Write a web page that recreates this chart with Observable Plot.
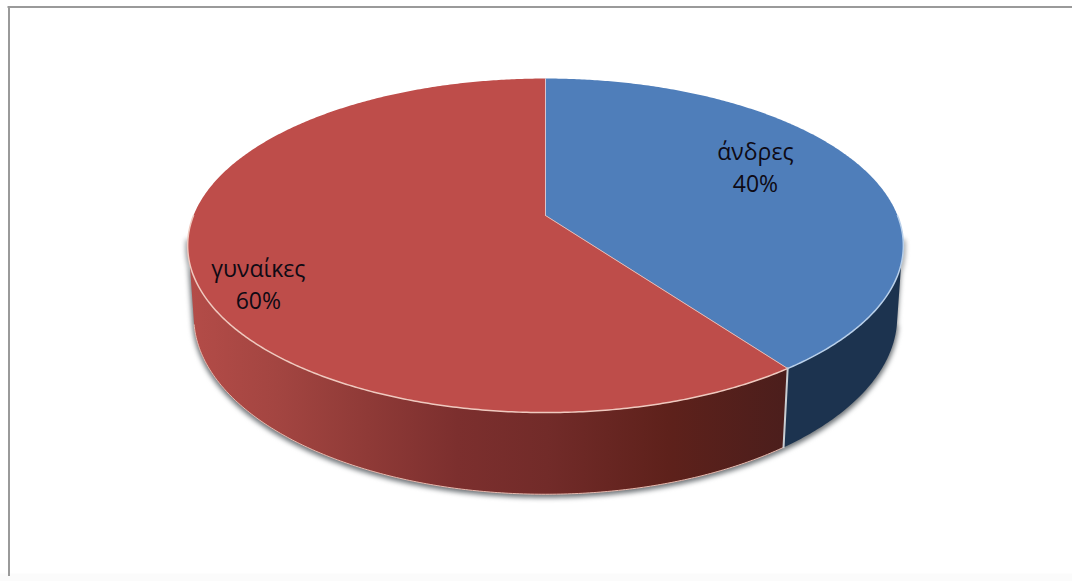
<!DOCTYPE html>
<html lang="el">
<head>
<meta charset="utf-8">
<script src="https://cdn.jsdelivr.net/npm/d3@7"></script>
<script src="https://cdn.jsdelivr.net/npm/@observablehq/plot@0.6"></script>
<style>
  html, body { margin: 0; padding: 0; background: #fff; }
  svg { display: block; }
</style>
</head>
<body>
<div id="chart"></div>
<script>
// Gender split, drawn as a tilted 3D pie.
const categories = ["γυναίκες", "άνδρες"];
const shares = [60, 40];
const topColors = ["#be4d4a", "#4f7eba"];

const W = 1072, H = 581;

// Perspective of the tilted disc: pixels per radius and apex position.
const cx = 545, cy = 215, radiusX = 352, radiusY = 161.6, tilt = 0.18;
// Lower rim of the disc, relative to the upper one.
const base = {sx: 346 / 352, sy: 172 / 161.6, dy: 69 / 161.6};

// Maps a point of the unit disc (clockwise degrees from 12 o'clock) into scene units.
function project(deg, r = 1, rim = {sx: 1, sy: 1, dy: 0}) {
  const t = (deg * Math.PI) / 180;
  const u = r * Math.sin(t), v = r * Math.cos(t), w = 1 + tilt * v;
  return {x: (rim.sx * u) / w, y: rim.dy + (rim.sy * v * -1) / w};
}
const sweep = (a, b, rim) => {
  const n = Math.max(2, Math.ceil(Math.abs(b - a) * 2));
  return d3.range(n + 1).map((i) => project(a + ((b - a) * i) / n, 1, rim));
};

// Slice angles: the blue slice starts at 12 o'clock and runs clockwise.
const total = d3.sum(shares);
const menEnd = (shares[1] / total) * 360;
// Where the walls' outlines leave the upper and the lower rim, on each side.
const tangent = {rightTop: 98, rightBase: 103, leftTop: 262, leftBase: 257};

const apex = project(0, 0);
const womenTop = [apex, ...sweep(menEnd, 360), apex];
const menTop = [apex, ...sweep(0, menEnd), apex];
const womenWall = [...sweep(menEnd, tangent.leftTop), ...sweep(tangent.leftBase, menEnd, base)];
const menWall = [...sweep(tangent.rightTop, menEnd), ...sweep(menEnd, tangent.rightBase, base)];
const shadowShape = [...sweep(tangent.rightTop, tangent.leftTop), ...sweep(tangent.leftBase, tangent.rightBase, base)];

const labels = [
  {text: `${categories[0]}\n${shares[0]}%`, ...project(menEnd + (shares[0] / total) * 180 - 9.6, 0.855)},
  {text: `${categories[1]}\n${shares[1]}%`, ...project((shares[1] / total) * 180 - 8.5, 0.704)}
];

const shape = (pts, o) => Plot.line(pts, {x: "x", y: "y", ...o});

const wallGradient = () => {
  const svg = d3.create("svg:defs");
  const g = svg.append("linearGradient").attr("id", "womenWallFill");
  [[0, "#b44c48"], [0.15, "#a34541"], [0.3, "#8f3a37"], [0.45, "#7c2f2e"],
   [0.6, "#722b29"], [0.8, "#5e211b"], [1, "#4b1e1c"]].forEach(([o, c]) =>
    g.append("stop").attr("offset", o).attr("stop-color", c));
  return svg.node();
};

// Pixel positions of the chart-area border, converted to scene units.
const sceneX = (px) => (px - cx) / radiusX;
const sceneY = (px) => (px - cy) / radiusY;

const chart = Plot.plot({
  width: W,
  height: H,
  margin: 0,
  style: {background: "#fff"},
  x: {axis: null, domain: [sceneX(0), sceneX(W)], range: [0, W]},
  y: {axis: null, domain: [sceneY(0), sceneY(H)], range: [0, H]},
  marks: [
    wallGradient,
    // faint strip along the bottom edge
    Plot.ruleY([sceneY(577)], {stroke: "#fbfbfb", strokeWidth: 8}),
    // soft shadow under the disc
    shape(shadowShape, {fill: "#6f7478", stroke: "#6f7478", strokeWidth: 3, dy: 2, imageFilter: "blur(2.5px)"}),
    // side walls
    shape(womenWall, {fill: "url(#womenWallFill)"}),
    shape(menWall, {fill: "#1c334f"}),
    // slice tops
    shape(womenTop, {fill: topColors[0]}),
    shape(menTop, {fill: topColors[1]}),
    // pale rims and seams
    shape(sweep(menEnd, 270), {stroke: "#efc9bf", strokeWidth: 1.5}),
    shape(sweep(90, menEnd), {stroke: "#b9d0ea", strokeWidth: 1.5}),
    shape(sweep(menEnd, tangent.leftBase, base), {stroke: "#e8b9ae", strokeWidth: 1}),
    shape([apex, project(menEnd)], {stroke: "#e7b9b2", strokeWidth: 1}),
    shape([apex, project(0)], {stroke: "#d9c3cc", strokeWidth: 1}),
    shape([project(menEnd), project(menEnd, 1, base)], {stroke: "#c9cdd2", strokeWidth: 2}),
    // labels
    Plot.text(labels, {
      x: "x", y: "y", text: "text", dy: -2,
      fontFamily: "Open Sans", fontSize: 23, lineHeight: 1.4, fill: "#0e0a14"
    }),
    // top and left border of the chart area
    Plot.ruleY([sceneY(6.5)], {x1: sceneX(7.5), x2: sceneX(W), stroke: "#9a9a9a", strokeWidth: 2}),
    Plot.ruleX([sceneX(8.5)], {y1: sceneY(6), y2: sceneY(576), stroke: "#9a9a9a", strokeWidth: 2})
  ]
});
document.getElementById("chart").append(chart);
</script>
</body>
</html>
